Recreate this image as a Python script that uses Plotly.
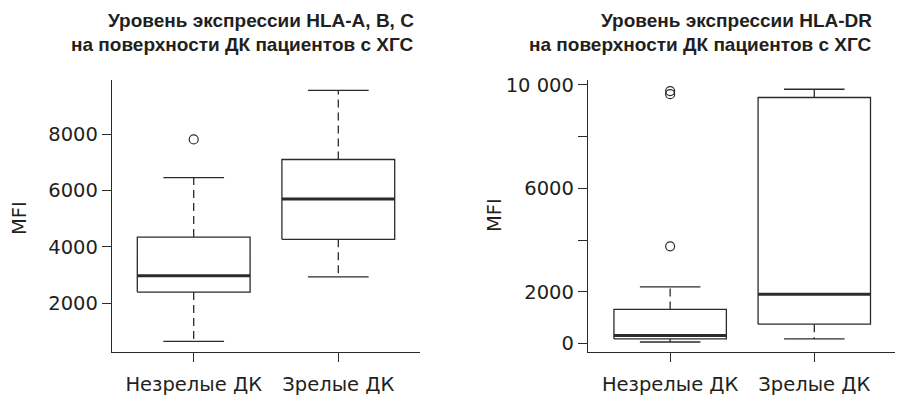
import plotly.graph_objects as go

# ---- data ----
categories = ["Незрелые ДК", "Зрелые ДК"]

# Panel 1: HLA-A, B, C
p1_lo = [650, 2940]
p1_q1 = [2400, 4270]
p1_med = [2980, 5700]
p1_q3 = [4350, 7100]
p1_hi = [6460, 9550]
p1_out = [[7810], []]

# Panel 2: HLA-DR
p2_lo = [60, 180]
p2_q1 = [180, 750]
p2_med = [310, 1910]
p2_q3 = [1320, 9510]
p2_hi = [2190, 9830]
p2_out = [[3760, 9640, 9760], []]

title1 = ["Уровень экспрессии HLA-A, B, C", "на поверхности ДК пациентов с ХГС"]
title2 = ["Уровень экспрессии HLA-DR", "на поверхности ДК пациентов с ХГС"]
y_title = "MFI"
p2_tickvals = [0, 2000, 4000, 6000, 8000, 10000]
p2_ticktext = ["0", "2000", "", "6000", "", "10 000"]
p1_tickvals = [2000, 4000, 6000, 8000]

W, H = 914, 395
LINE = "#2b2b2b"
TXT = "#231f20"
FONT = "DejaVu Sans"
BOXW = 0.39
CAPW = 0.21

fig = go.Figure()


def add_panel(xa, ya, lo, q1, med, q3, hi, out):
    for i in range(len(categories)):
        c = i + 1
        fig.add_trace(go.Scatter(
            x=[c, c, None, c, c], y=[q3[i], hi[i], None, q1[i], lo[i]],
            mode="lines", line=dict(color=LINE, width=1.3, dash="8px,5px"),
            xaxis=xa, yaxis=ya, hoverinfo="skip", showlegend=False))
        fig.add_trace(go.Scatter(
            x=[c - CAPW, c + CAPW, None, c - CAPW, c + CAPW],
            y=[hi[i], hi[i], None, lo[i], lo[i]],
            mode="lines", line=dict(color=LINE, width=1.3),
            xaxis=xa, yaxis=ya, hoverinfo="skip", showlegend=False))
        fig.add_trace(go.Scatter(
            x=[c - BOXW, c + BOXW, c + BOXW, c - BOXW, c - BOXW],
            y=[q1[i], q1[i], q3[i], q3[i], q1[i]],
            mode="lines", line=dict(color=LINE, width=1.3),
            fill="toself", fillcolor="white",
            xaxis=xa, yaxis=ya, hoverinfo="skip", showlegend=False))
        fig.add_trace(go.Scatter(
            x=[c - BOXW, c + BOXW], y=[med[i], med[i]],
            mode="lines", line=dict(color=LINE, width=3),
            xaxis=xa, yaxis=ya, hoverinfo="skip", showlegend=False))
        if out[i]:
            fig.add_trace(go.Scatter(
                x=[c] * len(out[i]), y=out[i], mode="markers",
                marker=dict(symbol="circle-open", size=9, color=LINE,
                            line=dict(width=1.2, color=LINE)),
                xaxis=xa, yaxis=ya, hoverinfo="skip", showlegend=False))


add_panel("x", "y", p1_lo, p1_q1, p1_med, p1_q3, p1_hi, p1_out)
add_panel("x2", "y2", p2_lo, p2_q1, p2_med, p2_q3, p2_hi, p2_out)

ydom = [1 - 352 / H, 1 - 79.5 / H]
TICKFONT = dict(family=FONT, size=19.5, color=TXT)
axis_common = dict(showgrid=False, zeroline=False, showline=True, automargin=False,
                   linecolor=LINE, linewidth=1.3, tickfont=TICKFONT,
                   ticks="outside", ticklen=9, tickcolor=LINE, tickwidth=1.3)

fig.update_layout(
    width=W, height=H,
    margin=dict(l=0, r=0, t=0, b=0, pad=0),
    paper_bgcolor="white", plot_bgcolor="white",
    showlegend=False,
    xaxis=dict(domain=[112 / W, 420 / W], range=[0.435, 2.565],
               tickvals=[1, 2], ticktext=categories, ticklabelstandoff=5,
               **axis_common),
    yaxis=dict(domain=ydom, range=[276, 9935],
               tickvals=p1_tickvals, **axis_common),
    xaxis2=dict(domain=[588 / W, 895 / W], range=[0.43, 2.56],
                tickvals=[1, 2], ticktext=categories, ticklabelstandoff=5,
                anchor="y2", **axis_common),
    yaxis2=dict(domain=ydom, range=[-326, 10206],
                tickvals=p2_tickvals, ticktext=p2_ticktext,
                anchor="x2", **axis_common),
)

# axis titles (rotated)
for xp, yp in ((19, 218), (494, 215)):
    fig.add_annotation(text=y_title, xref="paper", yref="paper",
                       x=xp / W, y=1 - yp / H, xanchor="center", yanchor="middle",
                       textangle=-90, showarrow=False,
                       font=dict(family=FONT, size=19.5, color=TXT))

for lines, xr in ((title1, 416), (title2, 874)):
    for k, (t, yc) in enumerate(zip(lines, (20, 45))):
        fig.add_annotation(text="<b>" + t + "</b>", xref="paper", yref="paper",
                           x=xr / W, y=1 - yc / H, xanchor="right", yanchor="middle",
                           showarrow=False,
                           font=dict(family="Liberation Sans", size=19, color=TXT))

fig.write_html("out.html", config={"displayModeBar": False},
               post_script="document.body.style.margin='0';document.body.style.padding='0';")
